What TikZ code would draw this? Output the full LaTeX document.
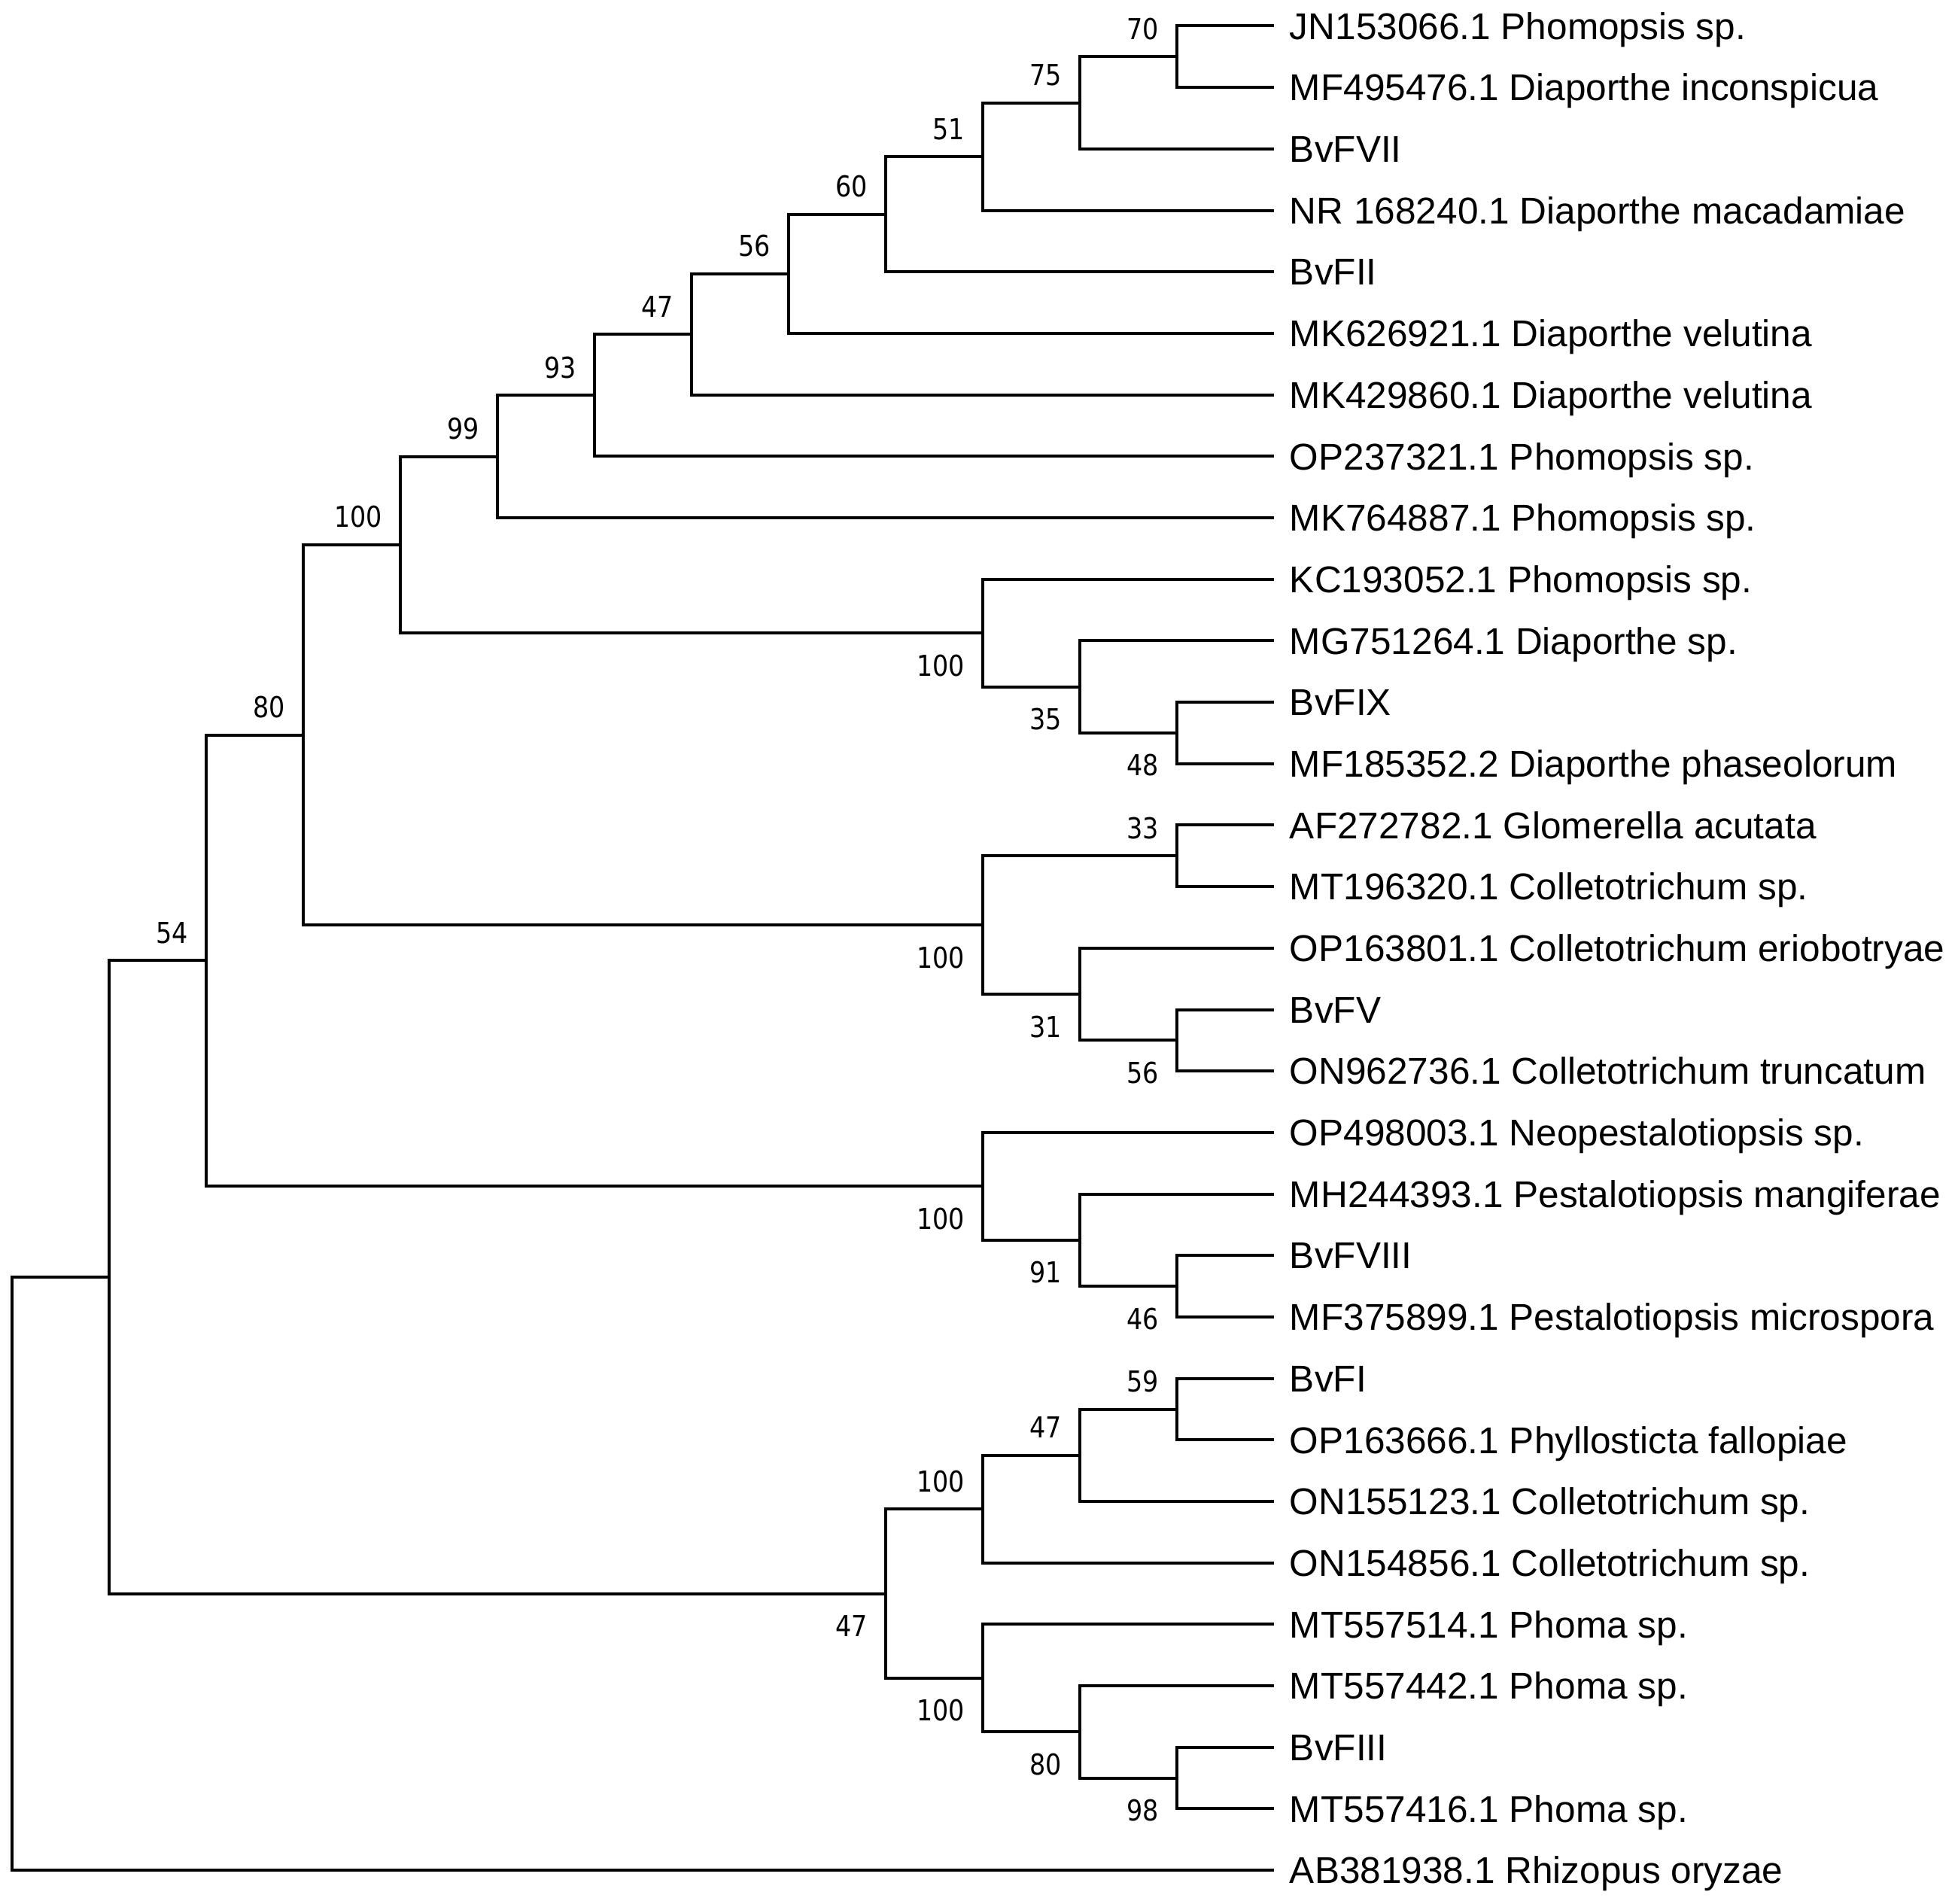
\documentclass[tikz,border=0pt]{standalone}
\usepackage{fontspec}
\usepackage{tikz}
\usetikzlibrary{positioning}
\newfontfamily\leaffont{Liberation Sans}
\newfontfamily\bootfont[FakeStretch=0.87]{DejaVu Sans}

\begin{document}
\begin{tikzpicture}[x=1.29cm, y=-0.8169cm, line width=0.04cm,
              leaf/.style = {anchor=base west, inner sep=0pt, xshift=0.19cm, yshift=-0.177cm,
                font=\leaffont\fontsize{14.1}{16}\selectfont},
              bootval/.style = {anchor=base east, inner sep=0pt, xshift=-0.22cm,
                font=\bootfont\fontsize{10.9}{12}\selectfont},
              bootup/.style = {bootval, yshift=0.23cm},
              bootdown/.style = {bootval, yshift=-0.57cm}]
  \useasboundingbox (-0.124,-0.4223) rectangle (20.016,30.548);
  % leaves
  \foreach \taxon [count=\i from 0] in {JN153066.1 Phomopsis sp., MF495476.1 Diaporthe inconspicua,
      BvFVII, NR 168240.1 Diaporthe macadamiae, BvFII, MK626921.1 Diaporthe velutina,
      MK429860.1 Diaporthe velutina, OP237321.1 Phomopsis sp., MK764887.1 Phomopsis sp.,
      KC193052.1 Phomopsis sp., MG751264.1 Diaporthe sp., BvFIX, MF185352.2 Diaporthe phaseolorum,
      AF272782.1 Glomerella acutata, MT196320.1 Colletotrichum sp., OP163801.1 Colletotrichum eriobotryae,
      BvFV, ON962736.1 Colletotrichum truncatum, OP498003.1 Neopestalotiopsis sp.,
      MH244393.1 Pestalotiopsis mangiferae, BvFVIII, MF375899.1 Pestalotiopsis microspora,
      BvFI, OP163666.1 Phyllosticta fallopiae, ON155123.1 Colletotrichum sp., ON154856.1 Colletotrichum sp.,
      MT557514.1 Phoma sp., MT557442.1 Phoma sp., BvFIII, MT557416.1 Phoma sp., AB381938.1 Rhizopus oryzae}
  {
    \coordinate (t\i) at (13,\i);
    \node[leaf] (l\i) at (t\i) {\taxon};
  }
  % Diaporthe
  \coordinate (dA) at (12,0.5);
  \coordinate (dB) at (11,1.25);
  \coordinate (dC) at (10,2.125);
  \coordinate (dD) at (9,3.0625);
  \coordinate (dE) at (8,4.03125);
  \coordinate (dF) at (7,5.015625);
  \coordinate (dG) at (6,6.0078);
  \coordinate (dH) at (5,7.0039);
  \coordinate (kA) at (12,11.5);
  \coordinate (kB) at (11,10.75);
  \coordinate (kC) at (10,9.875);
  \coordinate (dia) at (4,8.4395);
  % Colletotrichum
  \coordinate (cA) at (12,13.5);
  \coordinate (cB) at (12,16.5);
  \coordinate (cC) at (11,15.75);
  \coordinate (cD) at (10,14.625);
  \coordinate (sor) at (3,11.5322);
  % Pestalotiopsis
  \coordinate (pA) at (12,20.5);
  \coordinate (pB) at (11,19.75);
  \coordinate (pC) at (10,18.875);
  \coordinate (n54) at (2,15.2036);
  % Phyllosticta, Phoma
  \coordinate (gA) at (12,22.5);
  \coordinate (gB) at (11,23.25);
  \coordinate (gC) at (10,24.125);
  \coordinate (hA) at (12,28.5);
  \coordinate (hB) at (11,27.75);
  \coordinate (hC) at (10,26.875);
  \coordinate (low) at (9,25.5);
  \coordinate (ing) at (1,20.3518);
  \coordinate (root) at (0,25.1759);

  \draw (t0) -| (dA) |- (t1);
  \draw (dA) -| (dB) |- (t2);
  \draw (dB) -| (dC) |- (t3);
  \draw (dC) -| (dD) |- (t4);
  \draw (dD) -| (dE) |- (t5);
  \draw (dE) -| (dF) |- (t6);
  \draw (dF) -| (dG) |- (t7);
  \draw (dG) -| (dH) |- (t8);
  \draw (t11) -| (kA) |- (t12);
  \draw (t10) -| (kB) |- (kA);
  \draw (t9) -| (kC) |- (kB);
  \draw (dH) -| (dia) |- (kC);
  \draw (t13) -| (cA) |- (t14);
  \draw (t16) -| (cB) |- (t17);
  \draw (t15) -| (cC) |- (cB);
  \draw (cA) -| (cD) |- (cC);
  \draw (dia) -| (sor) |- (cD);
  \draw (t20) -| (pA) |- (t21);
  \draw (t19) -| (pB) |- (pA);
  \draw (t18) -| (pC) |- (pB);
  \draw (sor) -| (n54) |- (pC);
  \draw (t22) -| (gA) |- (t23);
  \draw (gA) -| (gB) |- (t24);
  \draw (gB) -| (gC) |- (t25);
  \draw (t28) -| (hA) |- (t29);
  \draw (t27) -| (hB) |- (hA);
  \draw (t26) -| (hC) |- (hB);
  \draw (gC) -| (low) |- (hC);
  \draw (n54) -| (ing) |- (low);
  \draw (ing) -| (root) |- (t30);

  % bootstrap values
  \node[bootup] (bA) at (dA) {70};
  \node[bootup] (bB) at (dB) {75};
  \node[bootup] (bC) at (dC) {51};
  \node[bootup] (bD) at (dD) {60};
  \node[bootup] (bE) at (dE) {56};
  \node[bootup] (bF) at (dF) {47};
  \node[bootup] (bG) at (dG) {93};
  \node[bootup] (bH) at (dH) {99};
  \node[bootdown] (bkA) at (kA) {48};
  \node[bootdown] (bkB) at (kB) {35};
  \node[bootdown] (bkC) at (kC) {100};
  \node[bootup] (bdia) at (dia) {100};
  \node[bootup] (bcA) at (cA) {33};
  \node[bootdown] (bcB) at (cB) {56};
  \node[bootdown] (bcC) at (cC) {31};
  \node[bootdown] (bcD) at (cD) {100};
  \node[bootup] (bsor) at (sor) {80};
  \node[bootdown] (bpA) at (pA) {46};
  \node[bootdown] (bpB) at (pB) {91};
  \node[bootdown] (bpC) at (pC) {100};
  \node[bootup] (b54) at (n54) {54};
  \node[bootup] (bgA) at (gA) {59};
  \node[bootup] (bgB) at (gB) {47};
  \node[bootup] (bgC) at (gC) {100};
  \node[bootdown] (bhA) at (hA) {98};
  \node[bootdown] (bhB) at (hB) {80};
  \node[bootdown] (bhC) at (hC) {100};
  \node[bootdown] (blow) at (low) {47};
\end{tikzpicture}
\end{document}
